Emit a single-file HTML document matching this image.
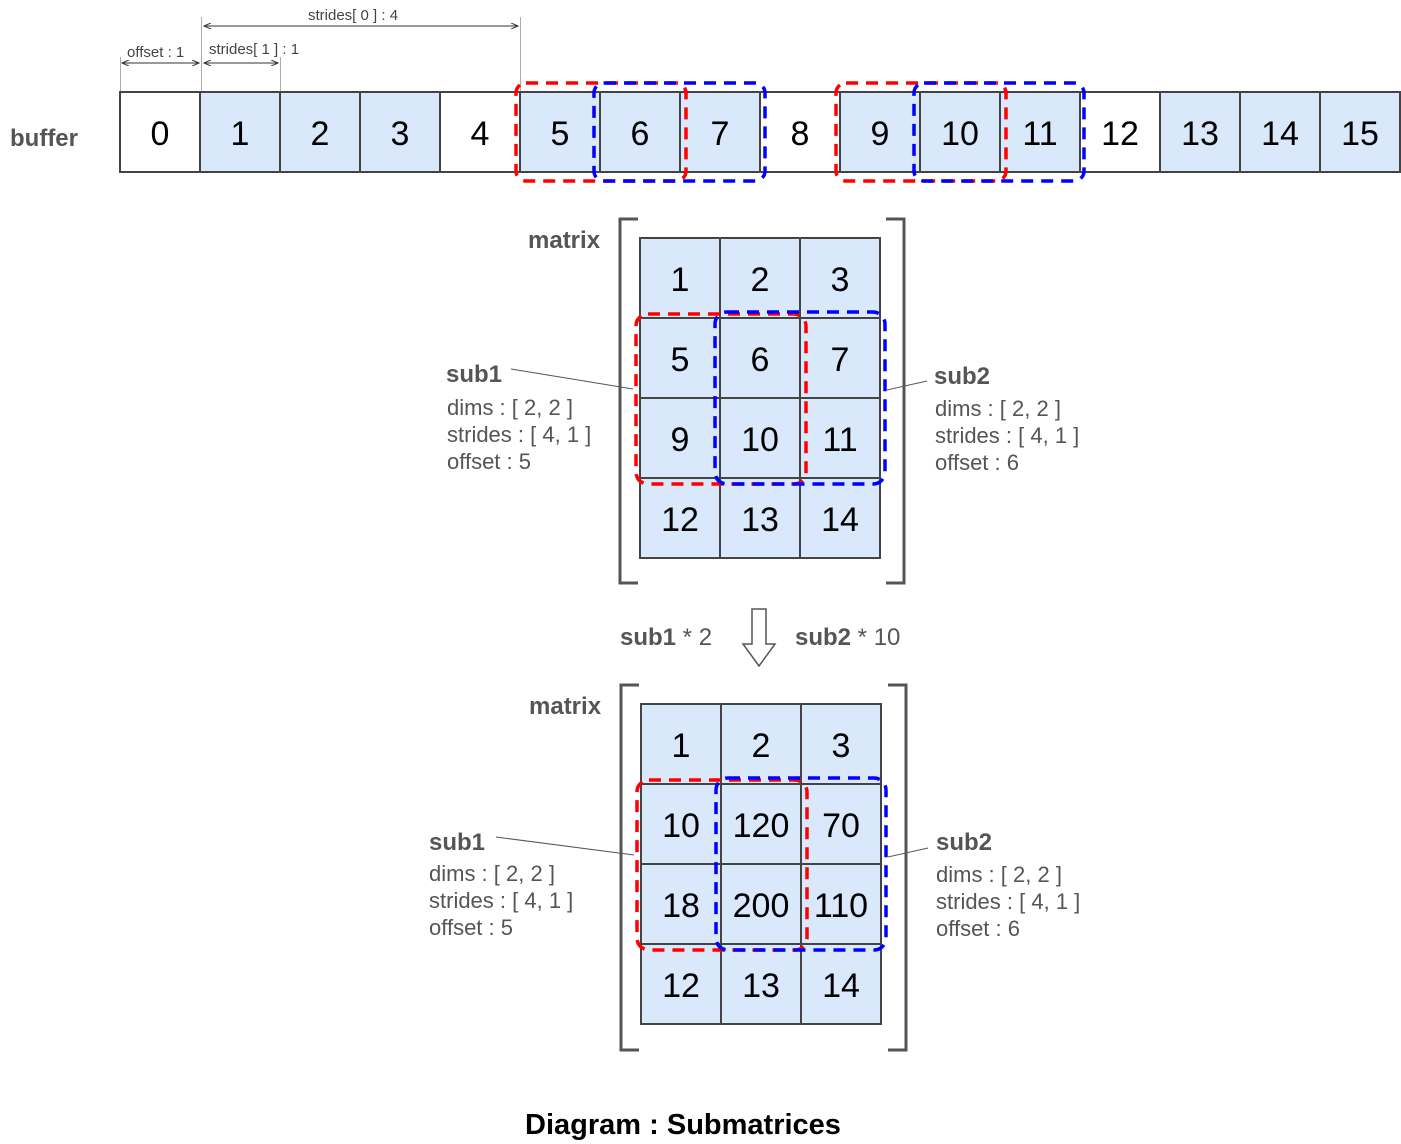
<!DOCTYPE html>
<html><head><meta charset="utf-8"><style>body{margin:0;background:#fff}svg{display:block}text{font-family:"Liberation Sans",sans-serif}</style></head><body>
<svg width="1401" height="1144" viewBox="0 0 1401 1144" xmlns="http://www.w3.org/2000/svg">
<defs><marker id="a" markerWidth="8" markerHeight="6" refX="7" refY="3" orient="auto-start-reverse"><path d="M0,0 L7,3 L0,6" fill="none" stroke="#333" stroke-width="1"/></marker></defs>
<!-- dimension lines -->
<g stroke="#aaa" stroke-width="1">
<line x1="120.5" y1="57" x2="120.5" y2="92"/><line x1="201.5" y1="17" x2="201.5" y2="92"/><line x1="280.5" y1="57" x2="280.5" y2="92"/><line x1="520.5" y1="17" x2="520.5" y2="92"/>
</g>
<g stroke="#333" stroke-width="1" marker-start="url(#a)" marker-end="url(#a)">
<line x1="122" y1="63" x2="199" y2="63"/><line x1="204" y1="63" x2="278" y2="63"/><line x1="204" y1="26" x2="518" y2="26"/>
</g>
<g font-size="15" fill="#444">
<text x="127" y="57">offset : 1</text><text x="209" y="54">strides[ 1 ] : 1</text><text x="308" y="20">strides[ 0 ] : 4</text>
</g>
<text x="10" y="146" font-size="24" font-weight="bold" fill="#555">buffer</text>
<!-- buffer cells -->
<g stroke="#444" stroke-width="2" font-size="34">
<rect x="120" y="92" width="80" height="80" fill="#fff"/>
<rect x="200" y="92" width="80" height="80" fill="#dae8fc"/>
<rect x="280" y="92" width="80" height="80" fill="#dae8fc"/>
<rect x="360" y="92" width="80" height="80" fill="#dae8fc"/>
<rect x="440" y="92" width="80" height="80" fill="#fff"/>
<rect x="520" y="92" width="80" height="80" fill="#dae8fc"/>
<rect x="600" y="92" width="80" height="80" fill="#dae8fc"/>
<rect x="680" y="92" width="80" height="80" fill="#dae8fc"/>
<rect x="760" y="92" width="80" height="80" fill="#fff"/>
<rect x="840" y="92" width="80" height="80" fill="#dae8fc"/>
<rect x="920" y="92" width="80" height="80" fill="#dae8fc"/>
<rect x="1000" y="92" width="80" height="80" fill="#dae8fc"/>
<rect x="1080" y="92" width="80" height="80" fill="#fff"/>
<rect x="1160" y="92" width="80" height="80" fill="#dae8fc"/>
<rect x="1240" y="92" width="80" height="80" fill="#dae8fc"/>
<rect x="1320" y="92" width="80" height="80" fill="#dae8fc"/>
</g>
<g font-size="34" fill="#000" text-anchor="middle">
<text x="160" y="145">0</text><text x="240" y="145">1</text><text x="320" y="145">2</text><text x="400" y="145">3</text><text x="480" y="145">4</text><text x="560" y="145">5</text><text x="640" y="145">6</text><text x="720" y="145">7</text><text x="800" y="145">8</text><text x="880" y="145">9</text><text x="960" y="145">10</text><text x="1040" y="145">11</text><text x="1120" y="145">12</text><text x="1200" y="145">13</text><text x="1280" y="145">14</text><text x="1360" y="145">15</text>
</g>
<g fill="none" stroke-width="3.5" stroke-dasharray="12,8">
<rect x="516" y="83" width="170" height="98" rx="10" stroke="#f00"/>
<rect x="594" y="83" width="171" height="98" rx="10" stroke="#00f"/>
<rect x="836" y="83" width="170" height="98" rx="10" stroke="#f00"/>
<rect x="914" y="83" width="170" height="98" rx="10" stroke="#00f"/>
</g>

<!-- matrix 1 -->
<g transform="translate(0,0)">
<path d="M638,219 H620 V583 H638 M886,219 H904 V583 H886" fill="none" stroke="#555" stroke-width="3"/>
<g stroke="#444" stroke-width="2" fill="#dae8fc">
<rect x="640" y="238" width="80" height="80"/><rect x="720" y="238" width="80" height="80"/><rect x="800" y="238" width="80" height="80"/>
<rect x="640" y="318" width="80" height="80"/><rect x="720" y="318" width="80" height="80"/><rect x="800" y="318" width="80" height="80"/>
<rect x="640" y="398" width="80" height="80"/><rect x="720" y="398" width="80" height="80"/><rect x="800" y="398" width="80" height="80"/>
<rect x="640" y="478" width="80" height="80"/><rect x="720" y="478" width="80" height="80"/><rect x="800" y="478" width="80" height="80"/>
</g>
<g font-size="34" text-anchor="middle">
<text x="680" y="291">1</text><text x="760" y="291">2</text><text x="840" y="291">3</text>
<text x="680" y="371">5</text><text x="760" y="371">6</text><text x="840" y="371">7</text>
<text x="680" y="451">9</text><text x="760" y="451">10</text><text x="840" y="451">11</text>
<text x="680" y="531">12</text><text x="760" y="531">13</text><text x="840" y="531">14</text>
</g>
<g fill="none" stroke-width="3.5" stroke-dasharray="12,8">
<rect x="636" y="314" width="170" height="170" rx="12" stroke="#f00"/>
<rect x="715" y="312" width="170" height="172" rx="12" stroke="#00f"/>
</g>
<text x="528" y="248" font-size="24" font-weight="bold" fill="#555">matrix</text>
<line x1="511" y1="369" x2="633" y2="389" stroke="#555"/>
<line x1="887" y1="390" x2="927" y2="381" stroke="#555"/>
<g font-size="22" fill="#555">
<text x="446" y="382" font-weight="bold" font-size="24">sub1</text>
<text x="447" y="415">dims : [ 2, 2 ]</text><text x="447" y="442">strides : [ 4, 1 ]</text><text x="447" y="469">offset : 5</text>
<text x="934" y="384" font-weight="bold" font-size="24">sub2</text>
<text x="935" y="416">dims : [ 2, 2 ]</text><text x="935" y="443">strides : [ 4, 1 ]</text><text x="935" y="470">offset : 6</text>
</g>
</g>

<!-- arrow -->
<path d="M752,609 H766 V644 H775 L759,666 L743,644 H752 Z" fill="#fff" stroke="#555" stroke-width="1.5"/>
<g font-size="24" fill="#555">
<text x="620" y="645"><tspan font-weight="bold">sub1</tspan> * 2</text>
<text x="795" y="645"><tspan font-weight="bold">sub2</tspan> * 10</text>
</g>

<!-- matrix 2 -->
<path d="M639,685 H621 V1050 H639 M888,685 H906 V1050 H888" fill="none" stroke="#555" stroke-width="3"/>
<g stroke="#444" stroke-width="2" fill="#dae8fc">
<rect x="641" y="704" width="80" height="80"/><rect x="721" y="704" width="80" height="80"/><rect x="801" y="704" width="80" height="80"/>
<rect x="641" y="784" width="80" height="80"/><rect x="721" y="784" width="80" height="80"/><rect x="801" y="784" width="80" height="80"/>
<rect x="641" y="864" width="80" height="80"/><rect x="721" y="864" width="80" height="80"/><rect x="801" y="864" width="80" height="80"/>
<rect x="641" y="944" width="80" height="80"/><rect x="721" y="944" width="80" height="80"/><rect x="801" y="944" width="80" height="80"/>
</g>
<g font-size="34" text-anchor="middle">
<text x="681" y="757">1</text><text x="761" y="757">2</text><text x="841" y="757">3</text>
<text x="681" y="837">10</text><text x="761" y="837">120</text><text x="841" y="837">70</text>
<text x="681" y="917">18</text><text x="761" y="917">200</text><text x="841" y="917">110</text>
<text x="681" y="997">12</text><text x="761" y="997">13</text><text x="841" y="997">14</text>
</g>
<g fill="none" stroke-width="3.5" stroke-dasharray="12,8">
<rect x="637" y="780" width="170" height="170" rx="12" stroke="#f00"/>
<rect x="716" y="778" width="170" height="172" rx="12" stroke="#00f"/>
</g>
<text x="529" y="714" font-size="24" font-weight="bold" fill="#555">matrix</text>
<line x1="496" y1="837" x2="634" y2="855" stroke="#555"/>
<line x1="888" y1="857" x2="928" y2="848" stroke="#555"/>
<g font-size="22" fill="#555">
<text x="429" y="850" font-weight="bold" font-size="24">sub1</text>
<text x="429" y="881">dims : [ 2, 2 ]</text><text x="429" y="908">strides : [ 4, 1 ]</text><text x="429" y="935">offset : 5</text>
<text x="936" y="850" font-weight="bold" font-size="24">sub2</text>
<text x="936" y="882">dims : [ 2, 2 ]</text><text x="936" y="909">strides : [ 4, 1 ]</text><text x="936" y="936">offset : 6</text>
</g>

<text x="683" y="1134" font-size="29" font-weight="bold" text-anchor="middle" fill="#000">Diagram : Submatrices</text>
</svg>
</body></html>
